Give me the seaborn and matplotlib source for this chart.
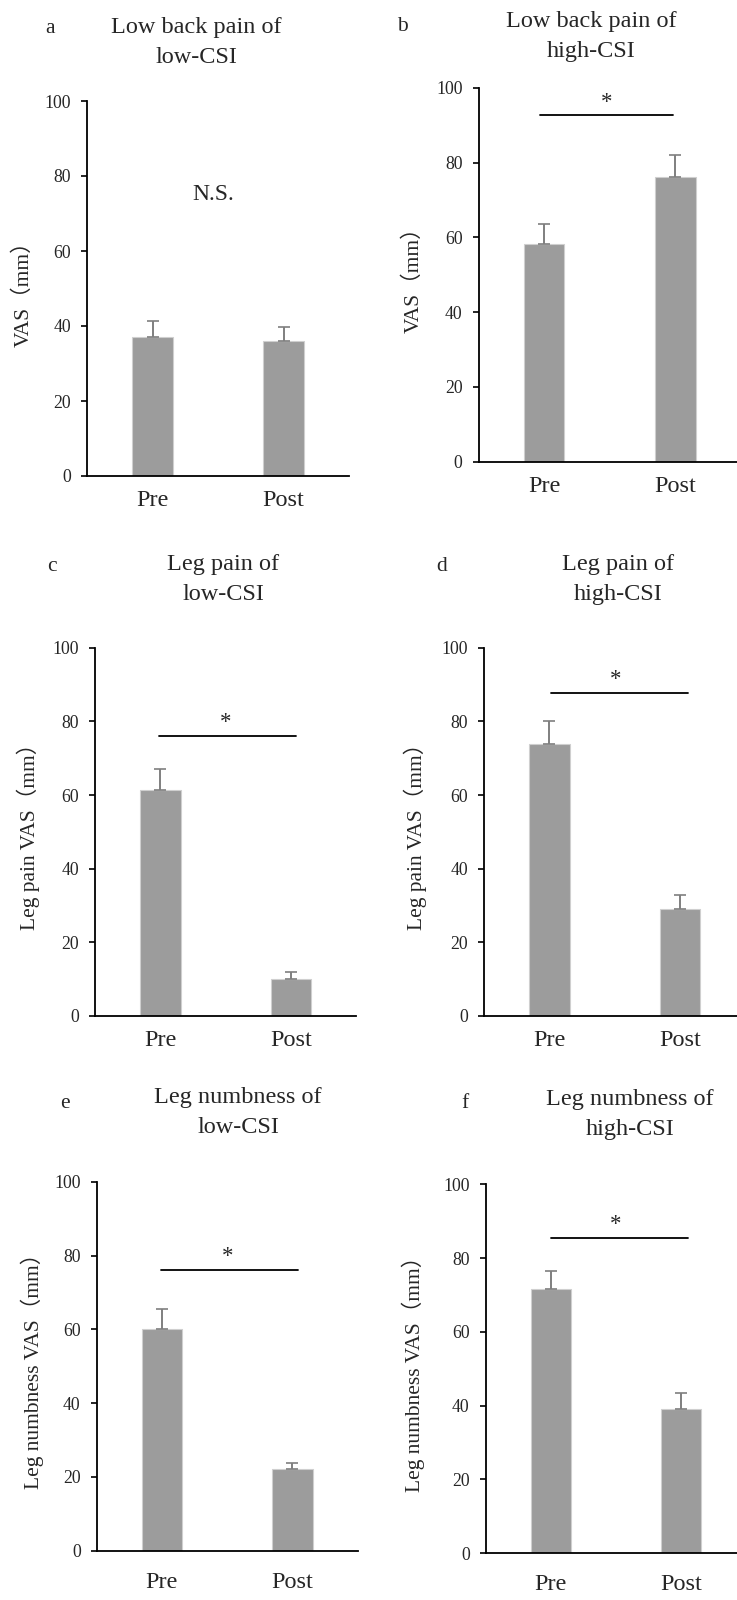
import numpy as np
import pandas as pd
import matplotlib
matplotlib.use("Agg")
import matplotlib.pyplot as plt
import seaborn as sns

sns.set_style("white")
plt.rcParams['font.family'] = ['Liberation Serif', 'Noto Sans CJK JP', 'DejaVu Sans']

# ---------------- data ----------------
categories = ["Pre", "Post"]

titles = ["Low back pain of\nlow-CSI", "Low back pain of\nhigh-CSI",
          "Leg pain of\nlow-CSI", "Leg pain of\nhigh-CSI",
          "Leg numbness of\nlow-CSI", "Leg numbness of\nhigh-CSI"]
panel_letters = ["a", "b", "c", "d", "e", "f"]
ylabels = ["VAS（mm）", "VAS（mm）",
           "Leg pain VAS（mm）", "Leg pain VAS（mm）",
           "Leg numbness VAS（mm）", "Leg numbness VAS（mm）"]

means_a = [37.0, 35.9]
means_b = [58.3, 76.0]
means_c = [61.3, 10.0]
means_d = [73.8, 29.0]
means_e = [60.1, 22.1]
means_f = [71.5, 39.1]

err_a = [4.4, 3.9]
err_b = [5.2, 6.0]
err_c = [5.7, 1.9]
err_d = [6.2, 3.8]
err_e = [5.5, 1.8]
err_f = [4.9, 4.2]

sig_labels = ["N.S.", "*", "*", "*", "*", "*"]
yticks = [0, 20, 40, 60, 80, 100]

means = [means_a, means_b, means_c, means_d, means_e, means_f]
errs = [err_a, err_b, err_c, err_d, err_e, err_f]

# ---------------- layout (pixels in a 737x1600 canvas) ----------------
W, H = 737, 1600
boxes = [
    (87.3, 349.0, 101.0, 476.0),
    (478.5, 741.0, 87.7, 461.7),
    (95.3, 356.0, 647.7, 1016.0),
    (484.0, 745.6, 647.7, 1016.0),
    (96.7, 357.7, 1181.7, 1550.7),
    (485.7, 746.3, 1184.3, 1553.0),
]
xpads = [10, 10, 10, 10, 15, 15]
sig_cfg = [
    (None, None, None, 75.2, 0.46),
    (92.7, -0.03, 0.98, 96.0, 0.48),
    (76.0, -0.01, 1.04, 79.8, 0.50),
    (87.6, 0.01, 1.06, 91.4, 0.51),
    (76.2, -0.01, 1.04, 79.8, 0.50),
    (85.3, 0.00, 1.05, 89.1, 0.50),
]
# x center, baseline of the second title line
title_pos = [(196, 63), (591, 57), (223, 600), (618, 600), (238, 1133), (630, 1135)]
letter_pos = [(50, 33), (402, 31), (52, 571), (442, 571), (65, 1108), (465, 1108)]
ylabel_x = [23, 413, 28, 415, 32, 413]

fig = plt.figure(figsize=(W / 100, H / 100), dpi=100)
fig.patch.set_facecolor("white")

bar_color = "#9c9c9c"
edge_color = "#cfcfcf"
err_color = "#7f7f7f"

for i in range(6):
    l, r, t, b = boxes[i]
    ax = fig.add_axes([l / W, 1 - b / H, (r - l) / W, (b - t) / H])
    df = pd.DataFrame({"time": categories, "VAS": means[i]})
    sns.barplot(data=df, x="time", y="VAS", color=bar_color, saturation=1,
                width=0.31, edgecolor=edge_color, linewidth=0.8, ax=ax,
                errorbar=None)
    xs = np.arange(len(categories))
    ax.errorbar(xs, means[i], yerr=[np.zeros(len(xs)), errs[i]], fmt="none",
                ecolor=err_color, elinewidth=1.4, capsize=4.5, capthick=1.2,
                zorder=1)
    ax.set_xlim(-0.5, 1.5)
    ax.set_ylim(0, 100)
    ax.set_yticks(yticks)
    ax.set_xlabel("")
    ax.set_ylabel("")
    for s in ["top", "right"]:
        ax.spines[s].set_visible(False)
    for s in ["left", "bottom"]:
        ax.spines[s].set_color("black")
        ax.spines[s].set_linewidth(1.3)
    ax.tick_params(axis="y", direction="out", length=4, width=1.2,
                   color="black", pad=7.5, labelsize=12.8, left=True)
    ax.tick_params(axis="x", length=0, pad=xpads[i], labelsize=17.5)
    for lab in ax.get_yticklabels() + ax.get_xticklabels():
        lab.set_fontfamily("Liberation Serif")
    ax.set_facecolor("white")

    ly, x0, x1, ty, tx = sig_cfg[i]
    if ly is not None:
        ax.plot([x0, x1], [ly, ly], color="black", lw=1.3, clip_on=False)
    fs = 17 if sig_labels[i] == "N.S." else 16.5
    ax.text(tx, ty, sig_labels[i], ha="center", va="center", fontsize=fs,
            fontfamily="Liberation Serif")

    tx_px, ty_px = title_pos[i]
    fig.text(tx_px / W, 1 - ty_px / H, titles[i], ha="center", va="baseline",
             fontsize=17.5, fontfamily="Liberation Serif", linespacing=1.55)
    lx, lyy = letter_pos[i]
    fig.text(lx / W, 1 - lyy / H, panel_letters[i], ha="center", va="baseline",
             fontsize=15.5, fontfamily="Liberation Serif")
    fig.text(ylabel_x[i] / W, 1 - ((t + b) / 2) / H, ylabels[i], rotation=90,
             ha="center", va="center", fontsize=15.5,
             fontfamily=["Liberation Serif", "Noto Sans CJK JP"])

fig.savefig("out.png", dpi=100, facecolor="white")
